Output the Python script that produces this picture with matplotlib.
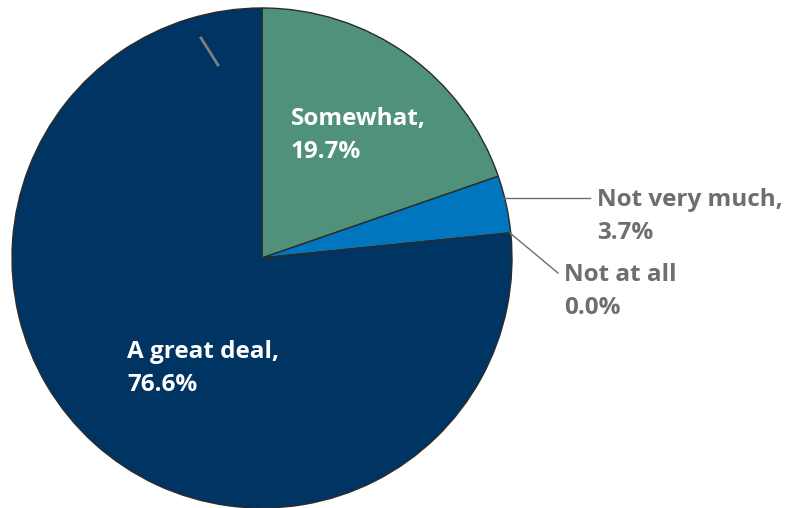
import matplotlib
matplotlib.use("Agg")
import matplotlib.pyplot as plt

categories = ["Somewhat", "Not very much", "Not at all", "A great deal"]
values = [19.7, 3.7, 0.0, 76.6]
labels = ["Somewhat,\n19.7%", "Not very much,\n3.7%", "Not at all\n0.0%", "A great deal,\n76.6%"]
colors = ["#4F9179", "#0076BF", "#0076BF", "#003462"]

W, H = 791, 508
fig = plt.figure(figsize=(W / 100, H / 100), dpi=100)
ax = fig.add_axes([0, 0, 1, 1])

def Y(y):
    return H - y

ax.pie(values, colors=colors, startangle=90, counterclock=False,
       center=(262, Y(258)), radius=250,
       wedgeprops=dict(edgecolor="#2b2b2b", linewidth=1.0))
ax.set_xlim(0, W)
ax.set_ylim(0, H)
ax.set_aspect("equal")
ax.axis("off")

font = ["Open Sans", "DejaVu Sans"]
fs = 17.5
pitch = 33

def put(label, x, y_base, color):
    for i, line in enumerate(label.split("\n")):
        ax.text(x, Y(y_base + i * pitch), line, ha="left", va="baseline",
                fontsize=fs, fontweight="bold", color=color, family=font)

gray = "#6D6E71"
put(labels[0], 291, 125, "white")
put(labels[1], 597, 206, gray)
put(labels[2], 564, 281, gray)
put(labels[3], 127, 358, "white")

# leader lines
ax.plot([503, 590], [Y(198), Y(198)], color="#6D6E71", lw=1.0)
ax.plot([510, 558], [Y(233), Y(273)], color="#6D6E71", lw=1.0)
ax.plot([201, 218], [Y(38), Y(65)], color="#7F7F7F", lw=2.0)

fig.savefig("out.png", dpi=100)
